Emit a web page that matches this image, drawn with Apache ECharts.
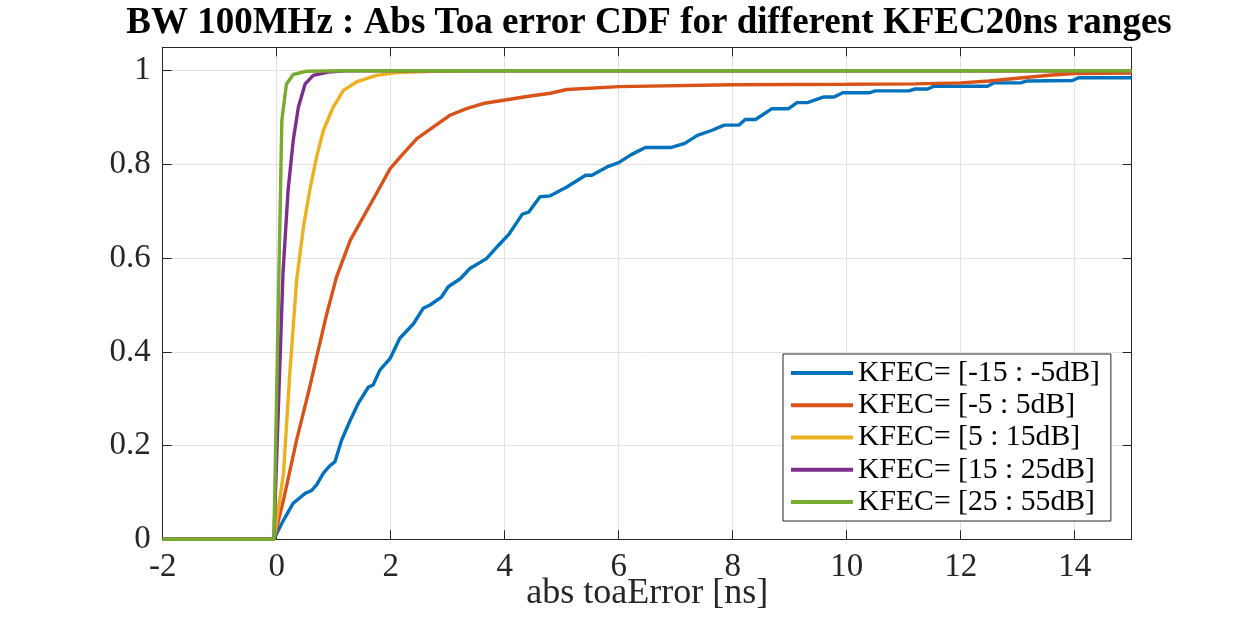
<!DOCTYPE html>
<html>
<head>
<meta charset="utf-8">
<script src="https://cdn.jsdelivr.net/npm/echarts@6/dist/echarts.min.js"></script>
<style>
  html, body { margin: 0; padding: 0; background: #fff; }
  #cdfChart { width: 1250px; height: 625px; }
</style>
</head>
<body>
<div id="cdfChart"></div>
<script>
// CDF curves, [abs toaError ns, probability]
var kfecM15toM5 = [[-2,0],[-0.05,0],[0.12,0.041],[0.29,0.077],[0.5,0.098],[0.61,0.104],[0.7,0.116],[0.82,0.141],[0.94,0.158],[1.02,0.165],[1.14,0.212],[1.29,0.254],[1.43,0.29],[1.61,0.325],[1.69,0.329],[1.81,0.361],[1.99,0.386],[2.16,0.429],[2.4,0.46],[2.57,0.493],[2.69,0.5],[2.89,0.517],[3.01,0.539],[3.22,0.556],[3.39,0.578],[3.68,0.599],[3.88,0.626],[4.08,0.652],[4.31,0.694],[4.42,0.698],[4.62,0.731],[4.8,0.733],[5.09,0.752],[5.42,0.777],[5.53,0.777],[5.82,0.796],[6.0,0.804],[6.22,0.821],[6.47,0.836],[6.91,0.836],[7.16,0.845],[7.38,0.862],[7.64,0.873],[7.85,0.884],[8.11,0.884],[8.22,0.896],[8.4,0.896],[8.69,0.919],[8.98,0.919],[9.13,0.932],[9.31,0.932],[9.6,0.944],[9.78,0.944],[9.93,0.953],[10.4,0.953],[10.5,0.957],[11.09,0.957],[11.2,0.961],[11.42,0.961],[11.53,0.967],[12.47,0.967],[12.58,0.974],[13.05,0.974],[13.15,0.978],[13.96,0.979],[14.07,0.985],[15,0.985]];
var kfecM5to5 = [[-2,0],[-0.05,0],[0.12,0.084],[0.35,0.212],[0.58,0.325],[0.7,0.389],[0.88,0.482],[1.05,0.56],[1.29,0.638],[1.52,0.688],[1.75,0.738],[1.99,0.791],[2.22,0.823],[2.46,0.855],[2.75,0.88],[3.04,0.905],[3.33,0.919],[3.62,0.93],[3.98,0.937],[4.39,0.945],[4.8,0.952],[5.09,0.96],[6,0.966],[8,0.97],[10,0.971],[11.2,0.972],[12,0.974],[12.5,0.978],[13,0.984],[13.6,0.991],[14,0.994],[15,0.995]];
var kfec5to15 = [[-2,0],[-0.05,0],[0.12,0.141],[0.23,0.354],[0.35,0.553],[0.47,0.667],[0.58,0.745],[0.7,0.816],[0.82,0.873],[0.99,0.922],[1.17,0.958],[1.4,0.976],[1.75,0.99],[2.1,0.996],[2.75,0.999],[3.5,1],[15,1]];
var kfec15to25 = [[-2,0],[-0.05,0],[0.05,0.354],[0.11,0.567],[0.2,0.745],[0.29,0.851],[0.38,0.922],[0.5,0.972],[0.64,0.99],[0.9,0.997],[1.2,1],[15,1]];
var kfec25to55 = [[-2,0],[-0.05,0],[0.09,0.894],[0.17,0.971],[0.29,0.992],[0.53,0.999],[1.2,1],[15,1]];

var seriesNames = ['KFEC= [-15 : -5dB]', 'KFEC= [-5 : 5dB]', 'KFEC= [5 : 15dB]', 'KFEC= [15 : 25dB]', 'KFEC= [25 : 55dB]'];
var seriesData = [kfecM15toM5, kfecM5to5, kfec5to15, kfec15to25, kfec25to55];
var seriesColors = ['#0072BD', '#D95319', '#EDB120', '#7E2F8E', '#77AC30'];

var serif = 'Liberation Serif';
var axisColor = '#262626';

var chart = echarts.init(document.getElementById('cdfChart'));

var series = seriesNames.map(function(name, i) {
    return {
        name: name,
        type: 'line',
        data: seriesData[i],
        showSymbol: false,
        symbol: 'none',
        lineStyle: { width: 3.4, color: seriesColors[i] },
        itemStyle: { color: seriesColors[i] },
        animation: false
    };
});

function boxAxis(extra) {
    var base = {
        type: 'value',
        axisLine: { show: true, onZero: false, lineStyle: { color: axisColor, width: 1 } },
        axisTick: { show: true, inside: true, length: 9, lineStyle: { color: axisColor } },
        axisLabel: { show: false },
        splitLine: { show: false }
    };
    return Object.assign(base, extra);
}

chart.setOption({
    backgroundColor: '#fff',
    animation: false,
    title: {
        text: 'BW 100MHz : Abs Toa error CDF for different KFEC20ns ranges',
        left: 644,
        top: 0,
        textAlign: 'center',
        textStyle: { fontFamily: serif, fontWeight: 'bold', fontSize: 37, color: '#000' }
    },
    grid: {
        left: 162.7,
        right: 118.3,
        top: 47.3,
        bottom: 85.7,
        show: false,
        containLabel: false,
        outerBoundsMode: 'none'
    },
    legend: {
        data: seriesNames,
        orient: 'vertical',
        left: 783,
        top: 354,
        icon: 'rect',
        itemWidth: 62,
        itemHeight: 4,
        itemGap: 0.25,
        padding: [3, 11, 3, 8],
        backgroundColor: '#fff',
        borderColor: axisColor,
        borderWidth: 1,
        textStyle: { fontFamily: serif, fontSize: 29.7, color: '#000', lineHeight: 32 }
    },
    xAxis: [
        boxAxis({
            min: -2, max: 15, interval: 2,
            name: 'abs toaError [ns]',
            nameLocation: 'middle',
            nameGap: 36,
            nameMoveOverlap: false,
            nameTextStyle: { fontFamily: serif, fontSize: 36, color: '#262626' },
            axisLabel: { show: true, showMaxLabel: false, margin: 12, fontFamily: serif, fontSize: 33, color: '#262626' },
            splitLine: { show: true, lineStyle: { color: '#e1e1e1', width: 1 } }
        }),
        boxAxis({ min: -2, max: 15, interval: 2, position: 'top' })
    ],
    yAxis: [
        boxAxis({
            min: 0, max: 1.05, interval: 0.2,
            axisLabel: { show: true, showMaxLabel: false, margin: 12, fontFamily: serif, fontSize: 33, color: '#262626' },
            splitLine: { show: true, lineStyle: { color: '#e1e1e1', width: 1 } }
        }),
        boxAxis({ min: 0, max: 1.05, interval: 0.2, position: 'right' })
    ],
    series: series
});
</script>
</body>
</html>
